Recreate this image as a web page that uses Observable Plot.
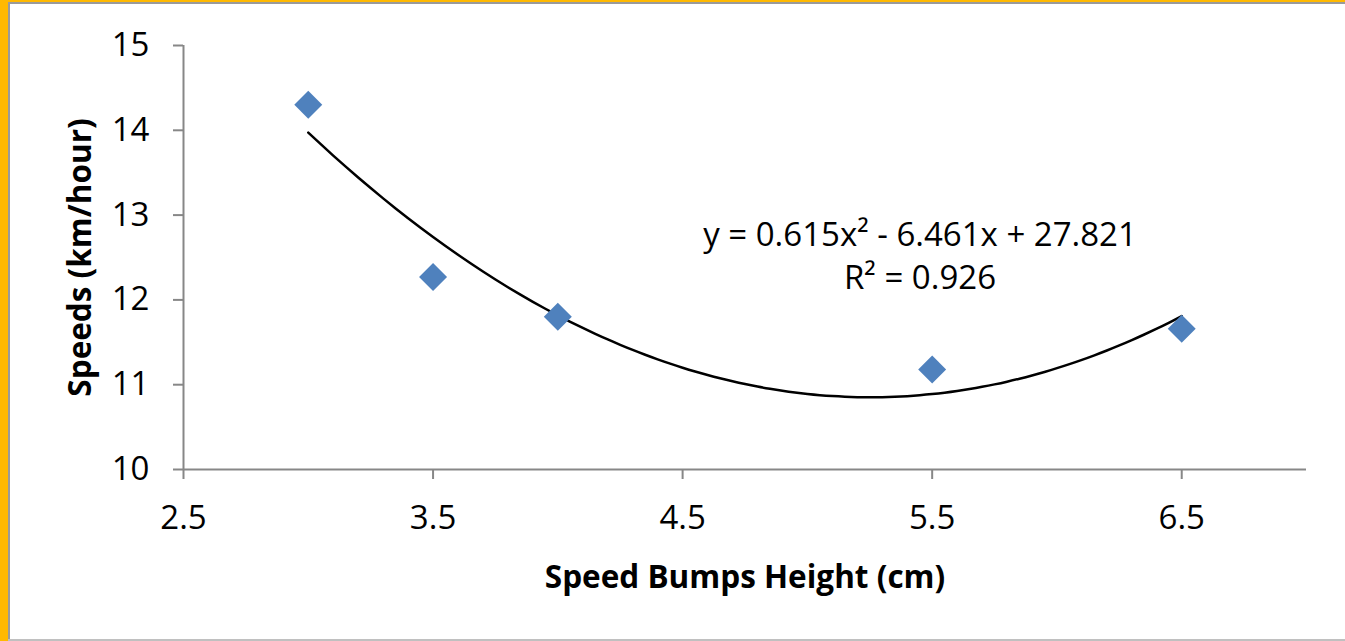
<!DOCTYPE html>
<html><head><meta charset="utf-8">
<script src="https://cdn.jsdelivr.net/npm/d3@7"></script>
<script src="https://cdn.jsdelivr.net/npm/@observablehq/plot@0.6"></script>
<style>
html,body{margin:0;padding:0;background:#fff;}
#wrap{position:relative;width:1345px;height:641px;overflow:hidden;background:#fff;}
#wrap svg{position:absolute;left:0;top:0;}
.b{position:absolute;}
</style></head><body>
<div id="wrap"></div>
<script>
const bumpHeights = [3, 3.5, 4, 5.5, 6.5];
const speeds = [14.3, 12.27, 11.8, 11.18, 11.66];
const xTicks = [2.5, 3.5, 4.5, 5.5, 6.5];
const yTicks = [10, 11, 12, 13, 14, 15];
const trendCoefficients = [0.615, -6.461, 27.821];
const equationLines = ["y = 0.615x² - 6.461x + 27.821", "R² = 0.926"];
const xLabel = "Speed Bumps Height (cm)";
const yLabel = "Speeds (km/hour)";

const points = bumpHeights.map((x, i) => ({x, y: speeds[i]}));
const [a, b, c] = trendCoefficients;
const xMin = d3.min(bumpHeights), xMax = d3.max(bumpHeights);
const trend = d3.range(0, 71).map(i => {
  const x = xMin + (xMax - xMin) * i / 70;
  return {x, y: a * x * x + b * x + c};
});

const axisGray = "#878787";
const font = "'Open Sans', sans-serif";

const chart = Plot.plot({
  width: 1345, height: 641,
  marginLeft: 183, marginRight: 39, marginTop: 45, marginBottom: 172,
  style: {fontFamily: font, fontSize: "33px", color: "#000", background: "transparent", overflow: "visible"},
  x: {domain: [2.5, 7]},
  y: {domain: [10, 15]},
  marks: [
    Plot.axisY({ticks: yTicks, tickSize: 10, tickPadding: 24, stroke: axisGray, strokeWidth: 2, label: null, fontSize: 33, tickFormat: d => String(d)}),
    Plot.axisX({ticks: xTicks, tickSize: 10, tickPadding: 26, stroke: axisGray, strokeWidth: 2, label: null, fontSize: 33, tickFormat: d3.format(".1f")}),
    Plot.ruleX([2.5], {stroke: axisGray, strokeWidth: 2}),
    Plot.ruleY([10], {stroke: axisGray, strokeWidth: 2}),
    Plot.line(trend, {x: "x", y: "y", stroke: "#000", strokeWidth: 2.5, curve: "natural"}),
    Plot.dot(points, {x: "x", y: "y", symbol: "diamond2", r: 12.6, fill: "#4F81BD"}),
    Plot.text([equationLines.join("\n")], {frameAnchor: "middle", dx: 175, dy: -4, fontSize: 33, lineHeight: 1.33, fill: "#000"}),
    Plot.text([yLabel], {frameAnchor: "left", textAnchor: "middle", lineAnchor: "middle", dx: -103, rotate: -90, fontWeight: "bold", fontSize: 31.5, fill: "#000"}),
    Plot.text([xLabel], {frameAnchor: "bottom", textAnchor: "middle", lineAnchor: "middle", dy: 108, fontWeight: "bold", fontSize: 31.5, fill: "#000"})
  ]
});
const wrap = document.getElementById("wrap");
wrap.appendChild(chart);
const borders = [
  "left:0;top:0;width:8px;height:641px;background:#FFB900",
  "left:0;top:0;width:1345px;height:2px;background:#FFB900",
  "left:8px;top:2px;width:2px;height:639px;background:#9a9a9a",
  "left:8px;top:2px;width:1337px;height:2px;background:#9a9a9a",
  "left:8px;top:639px;width:1337px;height:2px;background:#c0c0c0"
];
for (const s of borders) {
  const d = document.createElement("div");
  d.className = "b"; d.style.cssText = s; wrap.appendChild(d);
}
</script>
</body></html>
